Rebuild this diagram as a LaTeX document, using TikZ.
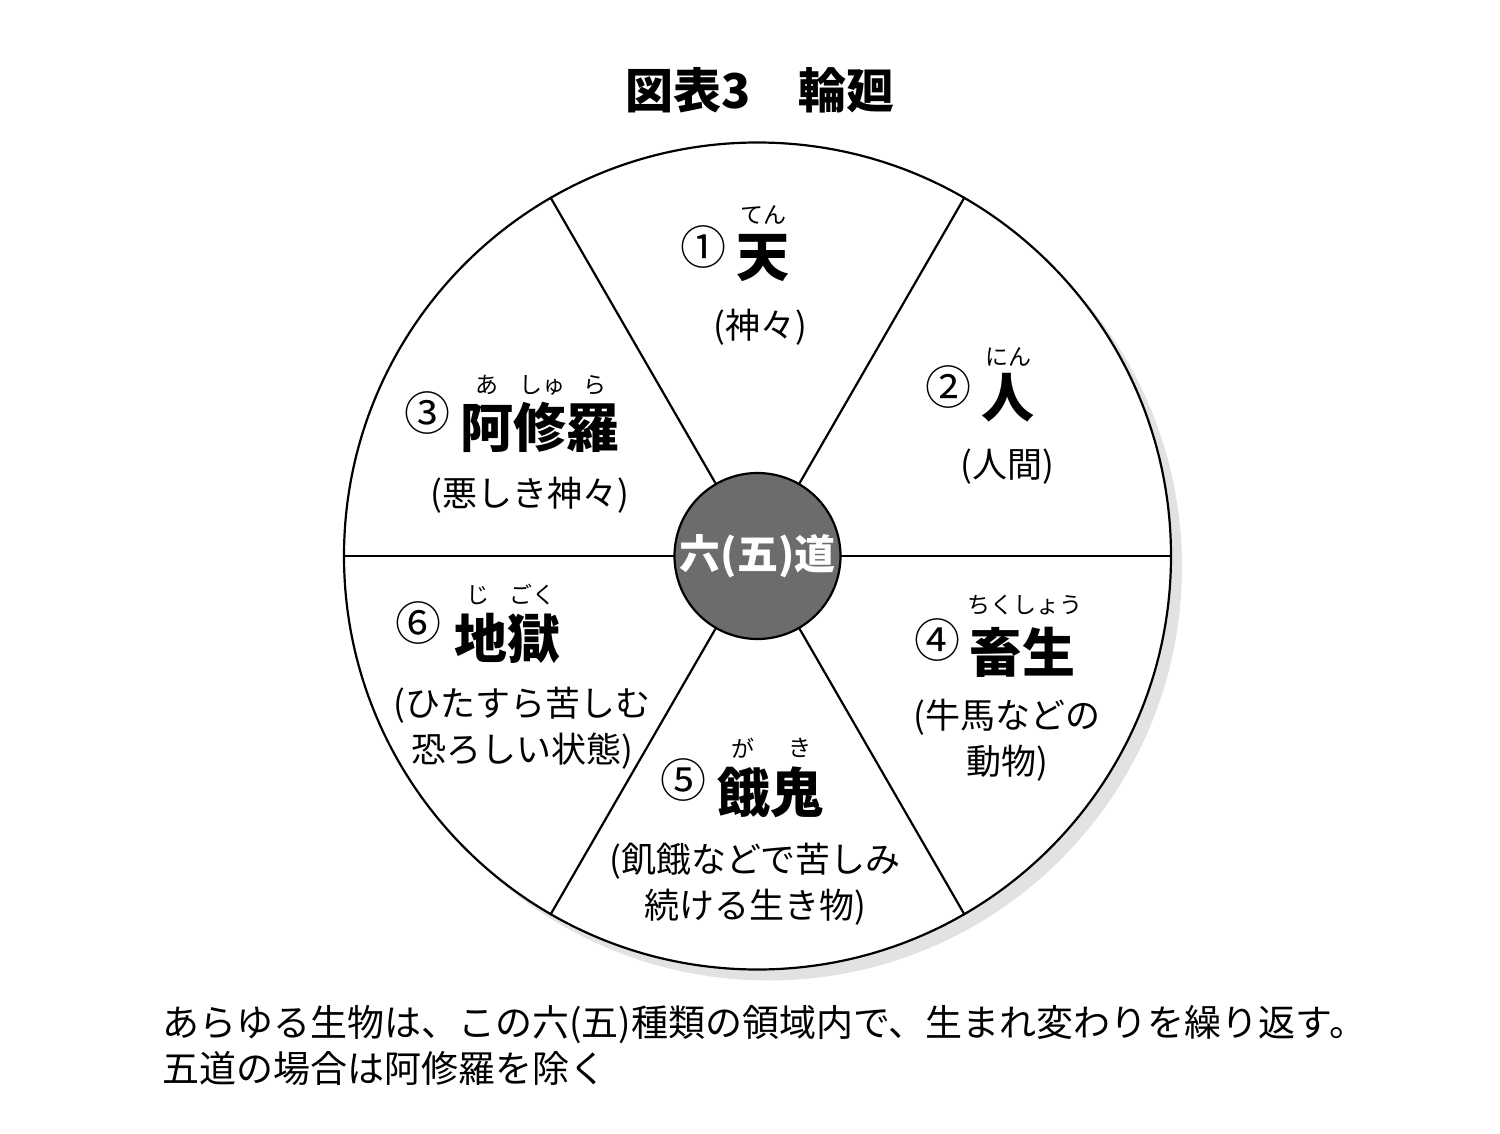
\documentclass[tikz,border=0pt]{standalone}
\usepackage{fontspec}
\setmainfont{Noto Sans CJK JP}
\usetikzlibrary{shadows}
\definecolor{coregray}{HTML}{6D6B6C}
\definecolor{shadowgray}{HTML}{E2E2E2}

\begin{document}
\begin{tikzpicture}[x=0.5pt, y=-0.5pt,
  realm/.style={font=\bfseries\fontsize{26.5}{30}\selectfont, inner sep=0pt},
  ruby/.style={font=\fontsize{11.5}{13}\selectfont, inner sep=0pt},
  gloss/.style={font=\fontsize{17.5}{23}\selectfont, align=center, inner sep=0pt},
  num/.style={font=\fontsize{23}{26}\selectfont, inner sep=0pt}]

        \useasboundingbox (0,0) rectangle (1500,1134);

        \node[font=\bfseries\fontsize{24}{28}\selectfont] (title) at (760,90) {図表3　輪廻};

        \node[circle, draw, line width=1.1pt, fill=white, minimum size=413.5pt, inner sep=0pt,
              drop shadow={shadow xshift=5.5pt, shadow yshift=-5.5pt, fill=shadowgray, opacity=1}]
              (wheel) at (757.5,556) {};

        \begin{scope}[line width=1.1pt]
          \draw (wheel.0)   -- (wheel.180);
          \draw (wheel.60)  -- (wheel.240);
          \draw (wheel.120) -- (wheel.300);
        \end{scope}

        \node[circle, draw, line width=1.1pt, fill=coregray, minimum size=83pt, inner sep=0pt,
              text=white, font=\bfseries\fontsize{20.5}{24}\selectfont]
              (core) at (757.5,556) {六(五)道};

        % 1
        \node[num]   (n1)  at (703,247) {①};
        \node[realm] (t1)  at (763,258) {天};
        \node[ruby]  (r1)  at (763,215) {てん};
        \node[gloss] (g1)  at (760,327) {(神々)};

        % 2
        \node[num]   (n2)  at (948,387) {②};
        \node[realm] (t2)  at (1008,398) {人};
        \node[ruby]  (r2)  at (1008,357) {にん};
        \node[gloss] (g2)  at (1007,467) {(人間)};

        % 3
        \node[num]   (n3)  at (427,413) {③};
        \node[realm] (t3)  at (540,427) {阿修羅};
        \node[ruby]  (r3a) at (487,385) {あ};
        \node[ruby]  (r3b) at (542,385) {しゅ};
        \node[ruby]  (r3c) at (595,385) {ら};
        \node[gloss] (g3)  at (530,495) {(悪しき神々)};

        % 4
        \node[num]   (n4)  at (937,640) {④};
        \node[realm] (t4)  at (1022,652) {畜生};
        \node[ruby]  (r4)  at (1025,605) {ちくしょう};
        \node[gloss] (g4)  at (1007,740) {(牛馬などの\\動物)};

        % 5
        \node[num]   (n5)  at (683,780) {⑤};
        \node[realm] (t5)  at (770,792) {餓鬼};
        \node[ruby]  (r5a) at (743,748) {が};
        \node[ruby]  (r5b) at (800,748) {き};
        \node[gloss] (g5)  at (755,884) {(飢餓などで苦しみ\\続ける生き物)};

        % 6
        \node[num]   (n6)  at (418,623) {⑥};
        \node[realm] (t6)  at (507,638) {地獄};
        \node[ruby]  (r6a) at (478,595) {じ};
        \node[ruby]  (r6b) at (532,595) {ごく};
        \node[gloss] (g6)  at (522,728) {(ひたすら苦しむ\\恐ろしい状態)};

        \node[font=\fontsize{18.5}{23}\selectfont, align=left, anchor=west, inner sep=0pt]
              (note) at (162,1045)
              {あらゆる生物は、この六(五)種類の領域内で、生まれ変わりを繰り返す。\\五道の場合は阿修羅を除く};

      \end{tikzpicture}
\end{document}
